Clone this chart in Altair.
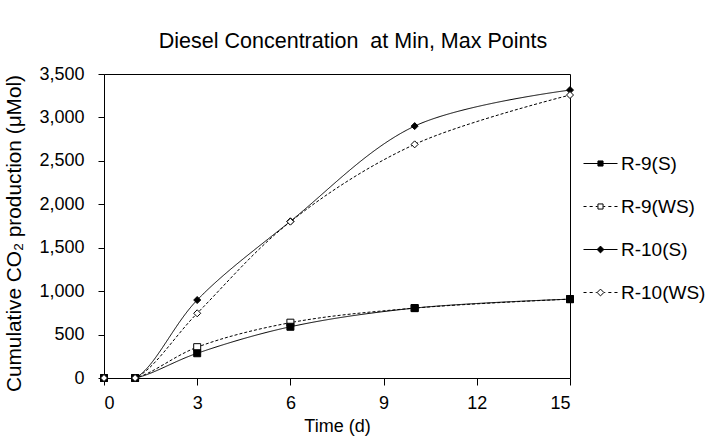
import altair as alt
import pandas as pd

time_d = [0, 1, 3, 6, 10, 15]
series = ["R-9(S)", "R-9(WS)", "R-10(S)", "R-10(WS)"]
draw_order = ["R-9(WS)", "R-9(S)", "R-10(S)", "R-10(WS)"]
r9_s = [0, 0, 285, 590, 805, 908]
r9_ws = [0, 0, 355, 637, 805, 908]
r10_s = [0, 0, 898, 1804, 2900, 3315]
r10_ws = [0, 0, 745, 1800, 2690, 3258]

values = {"R-9(S)": r9_s, "R-9(WS)": r9_ws, "R-10(S)": r10_s, "R-10(WS)": r10_ws}
rows = []
for s in draw_order:
    for t, v in zip(time_d, values[s]):
        rows.append({"time": t, "value": v, "series": s})
df = pd.DataFrame(rows)

FONT = "Liberation Sans"

x = alt.X("time:Q", scale=alt.Scale(domain=[0, 15], nice=False),
          axis=alt.Axis(values=[0, 3, 6, 9, 12, 15], title="Time (d)"))
y = alt.Y("value:Q", scale=alt.Scale(domain=[0, 3500], nice=False),
          axis=alt.Axis(values=list(range(0, 3501, 500)), format=",.0f",
                        title="Cumulative CO₂ production (μMol)", titleY=159))

dash = alt.StrokeDash("series:N", scale=alt.Scale(domain=series, range=[[1, 0], [3, 2], [1, 0], [3, 2]]), legend=None)

lines = alt.Chart(df).mark_line(interpolate="catmull-rom", color="black", strokeWidth=1, clip=True).encode(
    x=x, y=y, strokeDash=dash, detail="series:N")

points = alt.Chart(df).mark_point(stroke="black", strokeWidth=1, opacity=1).encode(
    x=x, y=y,
    shape=alt.Shape("series:N", scale=alt.Scale(domain=series, range=["square", "square", "diamond", "diamond"]), legend=None),
    fill=alt.Fill("series:N", scale=alt.Scale(domain=series, range=["black", "white", "black", "white"]), legend=None),
    size=alt.Size("series:N", scale=alt.Scale(domain=series, range=[49, 49, 64, 64]), legend=None),
)

solid_sq = "M-1,0H1M-0.15,-0.15H0.15V0.15H-0.15Z"
dash_sq = "M-1,0H-0.82M-0.64,0H-0.46M-0.28,0H-0.17M0.17,0H0.28M0.46,0H0.64M0.82,0H1M-0.15,-0.15H0.15V0.15H-0.15Z"
solid_di = "M-1,0H1M-0.2,0L0,-0.2L0.2,0L0,0.2Z"
dash_di = "M-1,0H-0.82M-0.64,0H-0.46M-0.28,0H-0.22M0.22,0H0.28M0.46,0H0.64M0.82,0H1M-0.2,0L0,-0.2L0.2,0L0,0.2Z"

leg = alt.Legend(title=None, orient="none", legendX=479, legendY=72,
                 labelFont=FONT, labelFontSize=19, labelColor="black",
                 symbolSize=1156, symbolStrokeColor="black", symbolStrokeWidth=1,
                 symbolOpacity=1, rowPadding=15, labelOffset=3, padding=0)

legend_layer = alt.Chart(df).mark_point(opacity=0).encode(
    x=x, y=y,
    shape=alt.Shape("series:N", scale=alt.Scale(domain=series, range=[solid_sq, dash_sq, solid_di, dash_di]), legend=leg),
    fill=alt.Fill("series:N", scale=alt.Scale(domain=series, range=["black", "white", "black", "white"]), legend=leg),
    stroke=alt.Stroke("series:N", scale=alt.Scale(domain=series, range=["black", "black", "black", "black"]), legend=leg),
)

chart = alt.layer(lines, points, legend_layer).resolve_scale(
    shape="independent", fill="independent", size="independent", stroke="independent"
).properties(
    width=466, height=304,
    title=alt.TitleParams("Diesel Concentration\u00a0\u00a0at Min,\u00a0Max Points", font=FONT, fontSize=21.5,
                          fontWeight="normal", color="black", anchor="middle", dx=16, offset=13),
    autosize=alt.AutoSizeParams(type="none"),
    padding={"left": 104, "top": 74, "right": 148, "bottom": 62},
    background="white",
).configure_view(stroke="black", strokeWidth=1).configure_axis(
    grid=False, labelFont=FONT, titleFont=FONT, labelFontSize=18, titleFontSize=18,
    labelColor="black", titleColor="black", titleFontWeight="normal",
    domainColor="black", tickColor="black", domainWidth=1, tickWidth=1,
).configure_axisX(tickSize=7, labelPadding=9, titlePadding=5).configure_axisY(
    tickSize=6, labelPadding=14, titlePadding=14, titleFontSize=20.8
)

chart.save("out.html", embed_options={"renderer": "svg", "actions": False})
